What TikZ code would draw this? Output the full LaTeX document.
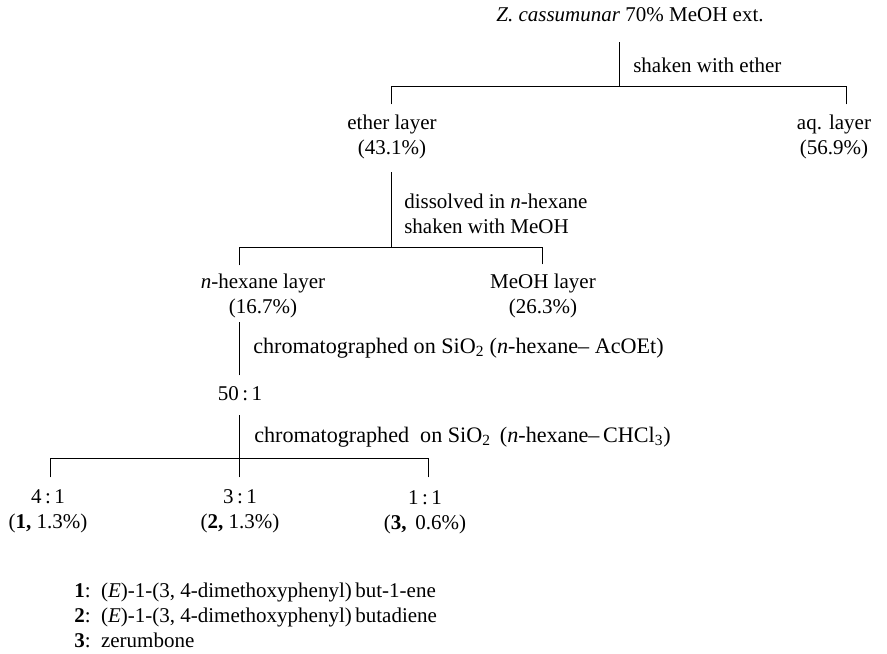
\documentclass[tikz,border=0pt]{standalone}
\usepackage{fontspec}
\setmainfont{Liberation Serif}
\usepackage{tikz}

\tikzset{
  lbl/.style={inner sep=0.75pt, font=\fontsize{15.75}{18.75}\selectfont},
  wide/.style={font=\fontsize{16.6}{18.75}\selectfont},
  branch/.style={line width=0.6pt, line cap=rect}
}

\begin{document}
\begin{tikzpicture}[x=0.75pt,y=0.75pt,yscale=-1,xscale=1]
    \useasboundingbox (0,0) rectangle (887,653);

    % Text Node
    \node (ext) at (630,15) [lbl] {\textit{Z. cassumunar} 70\% MeOH ext.};
    % Text Node
    \node (shake1) at (632,65) [lbl, anchor=west] {shaken with ether};
    % Text Node
    \node (ether) at (392,137) [lbl, align=center] {ether layer\\(43.1\%)};
    % Text Node
    \node (aq) at (834,137) [lbl, align=center] {aq. layer\\(56.9\%)};
    % Text Node
    \node (diss) at (403,214) [lbl, anchor=west, align=left] {dissolved in \textit{n}-hexane\\shaken with MeOH};
    % Text Node
    \node (hex) at (263,296) [lbl, align=center] {\textit{n}-hexane layer\\(16.7\%)};
    % Text Node
    \node (meoh) at (543,296) [lbl, align=center] {MeOH layer\\(26.3\%)};
    % Text Node
    \node (chrom1) at (252,348) [lbl, wide, anchor=west] {chromatographed on SiO\textsubscript{2}\ (\textit{n}-hexane-- AcOEt)};
    % Text Node
    \node (frac50) at (240,394) [lbl] {50\,:\,1};
    % Text Node
    \node (chrom2) at (253,437) [lbl, wide, anchor=west] {chromatographed\ \ on SiO\textsubscript{2}\ \,(\textit{n}-hexane--\,CHCl\textsubscript{3})};
    % Text Node
    \node (frac41) at (48,511) [lbl, align=center] {4\,:\,1\\(\textbf{1,} 1.3\%)};
    % Text Node
    \node (frac31) at (240,511) [lbl, align=center] {3\,:\,1\\(\textbf{2,} 1.3\%)};
    % Text Node
    \node (frac11) at (425,512) [lbl, align=center] {1\,:\,1\\(\textbf{3,}\ \,0.6\%)};
    % Text Node
    \node (legend) at (73,615) [lbl, anchor=west, align=left]
      {\textbf{1}:\ \ (\textit{E})-1-(3, 4-dimethoxyphenyl)\,but-1-ene\\
       \textbf{2}:\ \ (\textit{E})-1-(3, 4-dimethoxyphenyl)\,butadiene\\
       \textbf{3}:\ \ zerumbone};

    % branch points
    \coordinate (t1) at (619,42);   \coordinate (j1) at (619,86);
    \coordinate (j1l) at (391,86);  \coordinate (j1r) at (846,86);
    \coordinate (e1l) at (391,104); \coordinate (e1r) at (846,104);
    \coordinate (t2) at (391,172);  \coordinate (j2) at (391,247);
    \coordinate (j2l) at (239,247); \coordinate (j2r) at (542,247);
    \coordinate (e2l) at (239,265); \coordinate (e2r) at (542,264);
    \coordinate (t3) at (239,322);  \coordinate (b3) at (239,375);
    \coordinate (t4) at (239,415);  \coordinate (j4) at (239,458);
    \coordinate (j4l) at (50,458);  \coordinate (j4r) at (428,458);
    \coordinate (e4l) at (50,477);  \coordinate (e4m) at (239,477);
    \coordinate (e4r) at (428,477);

    %Straight Lines
    \draw [branch] (t1) -- (j1);
    \draw [branch] (e1l) -- (j1l) -- (j1r) -- (e1r);
    %Straight Lines
    \draw [branch] (t2) -- (j2);
    \draw [branch] (e2l) -- (j2l) -- (j2r) -- (e2r);
    %Straight Lines
    \draw [branch] (t3) -- (b3);
    %Straight Lines
    \draw [branch] (t4) -- (e4m);
    \draw [branch] (e4l) -- (j4l) -- (j4r) -- (e4r);

\end{tikzpicture}
\end{document}
